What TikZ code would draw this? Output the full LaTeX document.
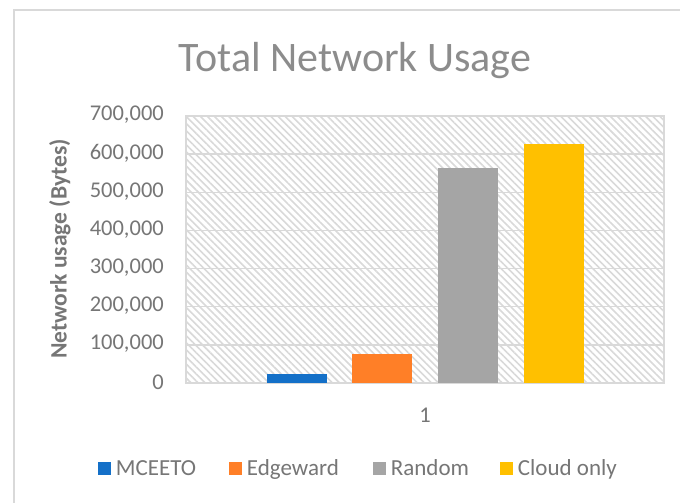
\documentclass[tikz,border=0pt]{standalone}
\usepackage{fontspec}
\setmainfont{Carlito}
\usetikzlibrary{positioning}
\usetikzlibrary{patterns.meta}
\definecolor{gridgray}{HTML}{D9D9D9}
\definecolor{textgray}{HTML}{767676}
\definecolor{titlegray}{HTML}{8C8C8C}
\definecolor{mceeto}{HTML}{1470C8}
\definecolor{edgeward}{HTML}{FF7F27}
\definecolor{random}{HTML}{A5A5A5}
\definecolor{cloudonly}{HTML}{FFC000}

\begin{document}
\begin{tikzpicture}[x=1pt,y=-1pt]
	\tikzstyle{grid}=[draw=gridgray,line width=1.4pt]
	\tikzstyle{tick}=[anchor=east,inner sep=0pt,text=textgray,font=\fontsize{22.5}{26}\selectfont]
	\tikzstyle{bar}=[draw=none]
	\tikzstyle{key}=[minimum size=13pt,inner sep=0pt]
	\tikzstyle{keytext}=[inner sep=0pt,text height=14.8pt,text depth=0pt,text=textgray,font=\fontsize{23}{27}\selectfont]

	\useasboundingbox (0,0) rectangle (680,503);
	\fill[white] (0,0) rectangle (680,503);

	% chart frame
	\draw[gridgray,line width=1.2pt] (14,503) -- (14,10) -- (680,10);

	% plot area: hatching, grid lines, border
	\fill[pattern={Lines[angle=-45,distance=5pt,line width=1.6pt]},pattern color=gridgray]
		(186,116) rectangle (664,383);
	\draw[grid] (186,154.1) -- (664,154.1);
	\draw[grid] (186,192.3) -- (664,192.3);
	\draw[grid] (186,230.4) -- (664,230.4);
	\draw[grid] (186,268.6) -- (664,268.6);
	\draw[grid] (186,306.7) -- (664,306.7);
	\draw[grid] (186,344.9) -- (664,344.9);
	\draw[grid] (186,116) rectangle (664,383);

	% values in steps of 100,000 = 38.14pt
	\node [tick] (t7) at (164,115)   {700,000};
	\node [tick] (t6) at (164,153.1) {600,000};
	\node [tick] (t5) at (164,191.3) {500,000};
	\node [tick] (t4) at (164,229.4) {400,000};
	\node [tick] (t3) at (164,267.6) {300,000};
	\node [tick] (t2) at (164,305.7) {200,000};
	\node [tick] (t1) at (164,343.9) {100,000};
	\node [tick] (t0) at (164,382)   {0};

	\node [rotate=90,text=textgray,font=\fontsize{23.5}{28}\selectfont\bfseries] (ylabel) at (60,249) {Network usage (Bytes)};

	% bars
	\fill[bar,mceeto]    (267,383) rectangle (327,373.5);
	\fill[bar,edgeward]  (352,383) rectangle (412,354.4);
	\fill[bar,random]    (438,383) rectangle (498,168.3);
	\fill[bar,cloudonly] (524,383) rectangle (584,144.2);

	\node [tick,anchor=base] (cat) at (425,422) {1};

	\node [anchor=base,text=titlegray,font=\fontsize{42}{50}\selectfont] (title) at (355,71) {Total Network Usage};

	% legend
	\node [key,fill=mceeto]    (k1) at (104,468) {};
	\node [keytext,right=5pt of k1] (l1) {MCEETO};
	\node [key,fill=edgeward]  (k2) at (235,468) {};
	\node [keytext,right=5pt of k2] (l2) {Edgeward};
	\node [key,fill=random]    (k3) at (379,468) {};
	\node [keytext,right=5pt of k3] (l3) {Random};
	\node [key,fill=cloudonly] (k4) at (506,468) {};
	\node [keytext,right=5pt of k4] (l4) {Cloud only};
\end{tikzpicture}
\end{document}
